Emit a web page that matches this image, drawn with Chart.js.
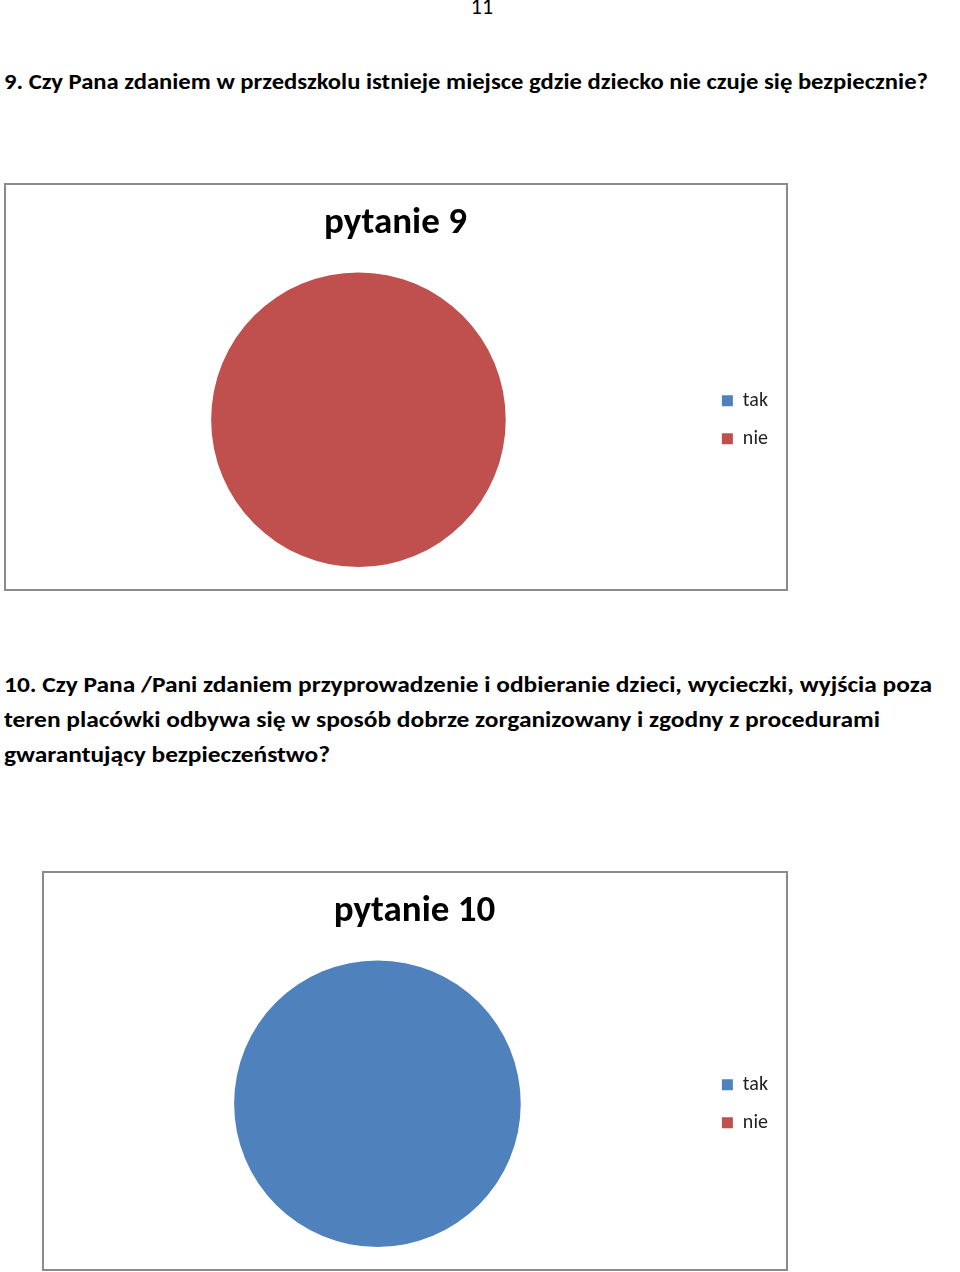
<!DOCTYPE html>
<html lang="pl">
<head>
  <meta charset="UTF-8">
  <title>pytanie 9 / pytanie 10</title>
  <script src="https://cdn.jsdelivr.net/npm/chart.js"></script>
  <style>
    body { margin: 0; background: #fff; width: 960px; height: 1272px; position: relative; overflow: hidden;
           font-family: "Carlito", "Liberation Sans Narrow", "DejaVu Sans Condensed", Lato, sans-serif; }
    .txt { position: absolute; left: 4px; white-space: nowrap; font-weight: bold; font-size: 22px; color: #000; }
    .pageno { position: absolute; left: 0; width: 964px; text-align: center; top: -7px; font-size: 22px; }
    .box { position: absolute; border: 2px solid #8a8a8a; box-sizing: border-box; }
    canvas { position: absolute; }
  </style>
</head>
<body>
  <div class="pageno">11</div>
  <div class="txt" style="top:68px" data-w="924">9. Czy Pana zdaniem w przedszkolu istnieje miejsce gdzie dziecko nie czuje się bezpiecznie?</div>

  <div class="box" style="left:4px;top:183px;width:784px;height:408px"></div>
  <canvas id="chart9" width="779" height="403" style="left:6px;top:185px"></canvas>

  <div class="txt" style="top:671px" data-w="928">10. Czy Pana /Pani zdaniem przyprowadzenie i odbieranie dzieci, wycieczki, wyjścia poza</div>
  <div class="txt" style="top:706px" data-w="876">teren placówki odbywa się w sposób dobrze zorganizowany i zgodny z procedurami</div>
  <div class="txt" style="top:741px" data-w="326">gwarantujący bezpieczeństwo?</div>

  <div class="box" style="left:42px;top:871px;width:746px;height:400px"></div>
  <canvas id="chart10" width="741" height="395" style="left:44px;top:873px"></canvas>

  <script>
    const labels = ['tak', 'nie'];
    const colors = ['#4F81BD', '#C0504D'];
    const values9 = [0, 100];   // pytanie 9: wszyscy "nie"
    const values10 = [100, 0];  // pytanie 10: wszyscy "tak"

    // stretch question lines to the widths of the original page
    document.querySelectorAll('.txt[data-w]').forEach(el => {
      const w = el.getBoundingClientRect().width;
      el.style.transformOrigin = '0 0';
      el.style.transform = 'scaleX(' + (+el.dataset.w / w) + ')';
    });

    const FONT = '"Carlito", "Liberation Sans Narrow", Lato, sans-serif';

    function makePie(id, title, data, pad) {
      const ctx = document.getElementById(id).getContext('2d');
      return new Chart(ctx, {
        type: 'pie',
        data: {
          labels: labels,
          datasets: [{ data: data, backgroundColor: colors, borderWidth: 0 }]
        },
        options: {
          responsive: false,
          animation: false,
          layout: { padding: pad },
          plugins: {
            title: {
              display: true,
              text: title,
              color: '#000',
              font: { family: FONT, size: 37, weight: 'bold' },
              padding: { top: 17, bottom: 26 }
            },
            legend: {
              position: 'right',
              fullSize: false,
              labels: {
                color: '#222',
                boxWidth: 11,
                boxHeight: 11,
                padding: 18,
                font: { family: FONT, size: 20 }
              }
            },
            tooltip: { enabled: false }
          }
        }
      });
    }

    makePie('chart9', 'pytanie 9', values9, { left: 7, right: 7, top: 0, bottom: 21 });
    makePie('chart10', 'pytanie 10', values10, { left: 7, right: 7, top: 0, bottom: 21 });
  </script>
</body>
</html>
